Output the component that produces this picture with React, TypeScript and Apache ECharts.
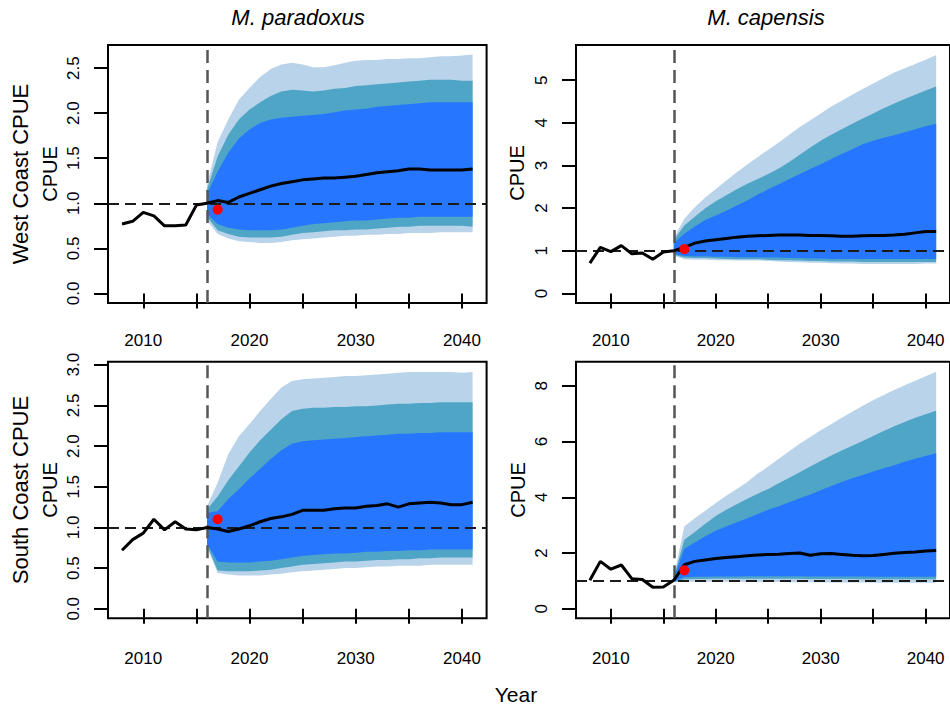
import React, { useEffect, useRef } from 'react';
import * as echarts from 'echarts';

// ---------- shared axes ----------
const histYears = [2008, 2009, 2010, 2011, 2012, 2013, 2014, 2015, 2016];
const projYears = [2016, 2017, 2018, 2019, 2020, 2021, 2022, 2023, 2024, 2025, 2026, 2027, 2028,
  2029, 2030, 2031, 2032, 2033, 2034, 2035, 2036, 2037, 2038, 2039, 2040, 2041];
const xTickValues = [2010, 2015, 2020, 2025, 2030, 2035, 2040];
const xLabelValues = [2010, 2020, 2030, 2040];
const obsYear = 2017;
const refValue = 1;
const projStartYear = 2016;

// ---------- West Coast, M. paradoxus ----------
const wcParHist = [0.77, 0.80, 0.90, 0.86, 0.75, 0.75, 0.76, 0.98, 1.00];
const wcParMed = [1.00, 1.03, 1.01, 1.07, 1.11, 1.15, 1.19, 1.22, 1.24, 1.26, 1.27, 1.28, 1.28, 1.29, 1.30, 1.32, 1.34, 1.35, 1.36, 1.38, 1.38, 1.37, 1.37, 1.37, 1.37, 1.38];
const wcParLightHi = [1.20, 1.68, 1.93, 2.15, 2.28, 2.40, 2.49, 2.54, 2.56, 2.54, 2.51, 2.51, 2.53, 2.56, 2.58, 2.59, 2.59, 2.60, 2.60, 2.61, 2.61, 2.62, 2.63, 2.63, 2.64, 2.65];
const wcParTealHi = [1.15, 1.52, 1.76, 1.93, 2.04, 2.12, 2.19, 2.24, 2.26, 2.25, 2.24, 2.25, 2.27, 2.28, 2.30, 2.31, 2.32, 2.33, 2.34, 2.35, 2.36, 2.37, 2.37, 2.37, 2.36, 2.36];
const wcParBlueHi = [1.10, 1.35, 1.56, 1.72, 1.82, 1.89, 1.93, 1.95, 1.96, 1.97, 1.98, 1.99, 2.01, 2.03, 2.04, 2.05, 2.07, 2.08, 2.09, 2.10, 2.11, 2.12, 2.12, 2.12, 2.12, 2.12];
const wcParBlueLo = [0.88, 0.77, 0.73, 0.71, 0.70, 0.70, 0.70, 0.71, 0.73, 0.75, 0.77, 0.78, 0.79, 0.80, 0.81, 0.81, 0.82, 0.83, 0.84, 0.84, 0.85, 0.85, 0.85, 0.85, 0.85, 0.85];
const wcParTealLo = [0.85, 0.70, 0.66, 0.63, 0.62, 0.62, 0.62, 0.63, 0.65, 0.67, 0.68, 0.69, 0.70, 0.70, 0.71, 0.71, 0.72, 0.73, 0.74, 0.74, 0.75, 0.75, 0.75, 0.75, 0.75, 0.74];
const wcParLightLo = [0.81, 0.66, 0.61, 0.58, 0.57, 0.56, 0.56, 0.57, 0.59, 0.60, 0.61, 0.62, 0.63, 0.64, 0.64, 0.65, 0.65, 0.66, 0.66, 0.67, 0.67, 0.67, 0.68, 0.68, 0.68, 0.68];
const wcParObs = 0.93;
const wcParYTicks = [0, 0.5, 1, 1.5, 2, 2.5];

// ---------- West Coast, M. capensis ----------
const wcCapHist = [0.71, 1.08, 0.98, 1.12, 0.93, 0.95, 0.80, 0.97, 1.00];
const wcCapMed = [1.00, 1.08, 1.18, 1.23, 1.26, 1.29, 1.32, 1.34, 1.35, 1.36, 1.37, 1.37, 1.37, 1.36, 1.36, 1.35, 1.34, 1.34, 1.35, 1.36, 1.36, 1.37, 1.39, 1.42, 1.45, 1.45];
const wcCapLightHi = [1.30, 1.75, 2.02, 2.25, 2.45, 2.65, 2.84, 3.02, 3.20, 3.37, 3.54, 3.72, 3.90, 4.06, 4.22, 4.38, 4.52, 4.66, 4.79, 4.92, 5.05, 5.18, 5.28, 5.38, 5.48, 5.59];
const wcCapTealHi = [1.25, 1.59, 1.80, 2.00, 2.16, 2.30, 2.44, 2.57, 2.68, 2.80, 2.93, 3.08, 3.25, 3.42, 3.58, 3.72, 3.85, 3.98, 4.10, 4.22, 4.34, 4.45, 4.56, 4.66, 4.76, 4.85];
const wcCapBlueHi = [1.18, 1.40, 1.57, 1.72, 1.83, 1.94, 2.06, 2.18, 2.32, 2.44, 2.56, 2.68, 2.80, 2.92, 3.03, 3.15, 3.27, 3.38, 3.50, 3.58, 3.65, 3.71, 3.78, 3.85, 3.92, 3.98];
const wcCapBlueLo = [0.93, 0.88, 0.87, 0.87, 0.86, 0.86, 0.85, 0.85, 0.85, 0.84, 0.84, 0.83, 0.83, 0.82, 0.82, 0.81, 0.81, 0.81, 0.81, 0.81, 0.81, 0.81, 0.81, 0.81, 0.81, 0.81];
const wcCapTealLo = [0.91, 0.84, 0.83, 0.83, 0.82, 0.81, 0.80, 0.80, 0.80, 0.79, 0.78, 0.78, 0.77, 0.76, 0.76, 0.75, 0.75, 0.75, 0.74, 0.74, 0.74, 0.74, 0.74, 0.74, 0.74, 0.74];
const wcCapLightLo = [0.89, 0.80, 0.79, 0.79, 0.78, 0.78, 0.77, 0.77, 0.77, 0.76, 0.75, 0.74, 0.73, 0.72, 0.72, 0.71, 0.70, 0.70, 0.69, 0.69, 0.69, 0.69, 0.69, 0.69, 0.70, 0.70];
const wcCapObs = 1.04;
const wcCapYTicks = [0, 1, 2, 3, 4, 5];

// ---------- South Coast, M. paradoxus ----------
const scParHist = [0.72, 0.85, 0.93, 1.10, 0.97, 1.07, 0.98, 0.97, 1.00];
const scParMed = [1.00, 0.98, 0.95, 0.98, 1.02, 1.07, 1.11, 1.13, 1.16, 1.21, 1.21, 1.21, 1.23, 1.24, 1.24, 1.26, 1.27, 1.29, 1.25, 1.29, 1.30, 1.31, 1.30, 1.28, 1.28, 1.31];
const scParLightHi = [1.26, 1.55, 1.90, 2.12, 2.27, 2.43, 2.58, 2.72, 2.80, 2.82, 2.83, 2.84, 2.85, 2.86, 2.86, 2.87, 2.88, 2.89, 2.90, 2.91, 2.91, 2.91, 2.91, 2.91, 2.90, 2.91];
const scParTealHi = [1.22, 1.38, 1.58, 1.75, 1.92, 2.07, 2.20, 2.33, 2.43, 2.46, 2.47, 2.47, 2.48, 2.48, 2.49, 2.49, 2.50, 2.51, 2.52, 2.52, 2.53, 2.53, 2.54, 2.54, 2.54, 2.54];
const scParBlueHi = [1.18, 1.20, 1.35, 1.47, 1.60, 1.72, 1.84, 1.95, 2.03, 2.06, 2.07, 2.08, 2.09, 2.10, 2.11, 2.12, 2.13, 2.14, 2.15, 2.15, 2.16, 2.16, 2.17, 2.17, 2.17, 2.17];
const scParBlueLo = [0.80, 0.58, 0.57, 0.57, 0.57, 0.58, 0.59, 0.61, 0.63, 0.65, 0.66, 0.67, 0.68, 0.68, 0.69, 0.70, 0.70, 0.71, 0.71, 0.72, 0.72, 0.73, 0.73, 0.73, 0.73, 0.73];
const scParTealLo = [0.78, 0.47, 0.46, 0.46, 0.46, 0.47, 0.48, 0.50, 0.52, 0.54, 0.55, 0.56, 0.57, 0.58, 0.58, 0.59, 0.60, 0.60, 0.61, 0.61, 0.62, 0.62, 0.63, 0.63, 0.63, 0.63];
const scParLightLo = [0.76, 0.44, 0.42, 0.41, 0.41, 0.41, 0.42, 0.43, 0.45, 0.46, 0.47, 0.48, 0.49, 0.50, 0.50, 0.51, 0.52, 0.52, 0.53, 0.53, 0.53, 0.54, 0.54, 0.54, 0.54, 0.54];
const scParObs = 1.10;
const scParYTicks = [0, 0.5, 1, 1.5, 2, 2.5, 3];

// ---------- South Coast, M. capensis ----------
const scCapHist = [1.02, 1.70, 1.42, 1.57, 1.08, 1.05, 0.77, 0.78, 1.02];
const scCapMed = [1.02, 1.58, 1.70, 1.75, 1.80, 1.84, 1.87, 1.90, 1.93, 1.95, 1.96, 1.98, 2.00, 1.92, 1.97, 1.98, 1.95, 1.92, 1.90, 1.91, 1.95, 1.99, 2.02, 2.04, 2.07, 2.09];
const scCapLightHi = [1.15, 2.95, 3.25, 3.52, 3.79, 4.05, 4.30, 4.55, 4.85, 5.10, 5.38, 5.65, 5.92, 6.16, 6.40, 6.62, 6.85, 7.07, 7.28, 7.48, 7.67, 7.85, 8.02, 8.18, 8.34, 8.50];
const scCapTealHi = [1.12, 2.48, 2.75, 3.05, 3.33, 3.55, 3.75, 3.95, 4.13, 4.30, 4.50, 4.70, 4.90, 5.10, 5.30, 5.50, 5.68, 5.85, 6.02, 6.20, 6.38, 6.55, 6.70, 6.85, 6.98, 7.10];
const scCapBlueHi = [1.10, 2.15, 2.38, 2.60, 2.80, 2.95, 3.10, 3.25, 3.40, 3.55, 3.68, 3.82, 3.96, 4.10, 4.25, 4.40, 4.55, 4.68, 4.80, 4.92, 5.04, 5.15, 5.27, 5.38, 5.48, 5.58];
const scCapBlueLo = [0.97, 1.14, 1.15, 1.15, 1.16, 1.16, 1.16, 1.17, 1.17, 1.17, 1.17, 1.17, 1.17, 1.16, 1.16, 1.16, 1.16, 1.16, 1.16, 1.15, 1.15, 1.15, 1.15, 1.15, 1.15, 1.15];
const scCapTealLo = [0.96, 1.06, 1.07, 1.07, 1.08, 1.08, 1.08, 1.08, 1.08, 1.08, 1.08, 1.08, 1.08, 1.07, 1.07, 1.07, 1.07, 1.07, 1.06, 1.06, 1.06, 1.06, 1.06, 1.06, 1.06, 1.06];
const scCapLightLo = [0.95, 0.97, 0.97, 0.97, 0.97, 0.97, 0.97, 0.96, 0.96, 0.96, 0.96, 0.95, 0.95, 0.95, 0.95, 0.94, 0.94, 0.94, 0.94, 0.94, 0.93, 0.93, 0.93, 0.93, 0.93, 0.93];
const scCapObs = 1.38;
const scCapYTicks = [0, 2, 4, 6, 8];

// ---------- styling / layout ----------
const FONT = '"Liberation Sans", Arial, Helvetica, sans-serif';
const C_LIGHT = '#B9D3EA';
const C_TEAL = '#4EA5C6';
const C_BLUE = '#2776FF';
const X_MIN = 2006.68;
const X_MAX = 2042.32;

const panels = [
  { hist: wcParHist, med: wcParMed, lh: wcParLightHi, th: wcParTealHi, bh: wcParBlueHi, bl: wcParBlueLo, tl: wcParTealLo, ll: wcParLightLo, obs: wcParObs, yTicks: wcParYTicks, dec: 1,
    left: 108, top: 45, width: 378.6, height: 258, ymin: -0.106, ymax: 2.756, xMargin: 29 },
  { hist: wcCapHist, med: wcCapMed, lh: wcCapLightHi, th: wcCapTealHi, bh: wcCapBlueHi, bl: wcCapBlueLo, tl: wcCapTealLo, ll: wcCapLightLo, obs: wcCapObs, yTicks: wcCapYTicks, dec: 0,
    left: 576, top: 45, width: 377.5, height: 258, ymin: -0.224, ymax: 5.824, xMargin: 29 },
  { hist: scParHist, med: scParMed, lh: scParLightHi, th: scParTealHi, bh: scParBlueHi, bl: scParBlueLo, tl: scParTealLo, ll: scParLightLo, obs: scParObs, yTicks: scParYTicks, dec: 1,
    left: 108, top: 361.7, width: 378.6, height: 256.6, ymin: -0.117, ymax: 3.037, xMargin: 32 },
  { hist: scCapHist, med: scCapMed, lh: scCapLightHi, th: scCapTealHi, bh: scCapBlueHi, bl: scCapBlueLo, tl: scCapTealLo, ll: scCapLightLo, obs: scCapObs, yTicks: scCapYTicks, dec: 0,
    left: 576, top: 361.7, width: 377.5, height: 256.6, ymin: -0.341, ymax: 8.861, xMargin: 32 },
];

function bandSeries(idx: number, lo: number[], hi: number[], color: string, z: number) {
  return {
    type: 'custom',
    xAxisIndex: idx,
    yAxisIndex: idx,
    z,
    silent: true,
    data: projYears.map((yr, k) => [yr, lo[k], hi[k]]),
    encode: { x: 0, y: [1, 2] },
    renderItem: (params: any, api: any) => {
      if (params.dataIndex !== 0) return null;
      const upper = projYears.map((yr, k) => api.coord([yr, hi[k]]));
      const lower = projYears.map((yr, k) => api.coord([yr, lo[k]])).reverse();
      return {
        type: 'polygon',
        shape: { points: upper.concat(lower) },
        style: { fill: color, stroke: null },
      };
    },
  };
}

function buildOption() {
  const grid = panels.map((p) => ({
    left: p.left, top: p.top, width: p.width, height: p.height,
    show: true, borderColor: '#000', borderWidth: 2, backgroundColor: 'transparent',
  }));
  const xAxis = panels.map((p, i) => ({
    type: 'value', gridIndex: i, min: X_MIN, max: X_MAX,
    axisLine: { show: false },
    splitLine: { show: false },
    axisTick: { show: true, inside: false, length: 15, customValues: xTickValues, lineStyle: { color: '#000', width: 2 } },
    axisLabel: { customValues: xLabelValues, fontSize: 17, fontFamily: FONT, color: '#000', margin: p.xMargin, formatter: (v: number) => String(v) },
  }));
  const yAxis = panels.map((p, i) => ({
    type: 'value', gridIndex: i, min: p.ymin, max: p.ymax,
    axisLine: { show: false },
    splitLine: { show: false },
    axisTick: { show: true, inside: false, length: 14, customValues: p.yTicks, lineStyle: { color: '#000', width: 2 } },
    axisLabel: {
      customValues: p.yTicks, rotate: 90, fontSize: 17, fontFamily: FONT, color: '#000', margin: 26,
      formatter: (v: number) => (p.dec ? v.toFixed(1) : String(Math.round(v))),
    },
  }));
  const series: any[] = [];
  panels.forEach((p, i) => {
    series.push(bandSeries(i, p.ll, p.lh, C_LIGHT, 1));
    series.push(bandSeries(i, p.tl, p.th, C_TEAL, 2));
    series.push(bandSeries(i, p.bl, p.bh, C_BLUE, 3));
    series.push({
      type: 'line', xAxisIndex: i, yAxisIndex: i, z: 10, silent: true,
      data: histYears.map((yr, k) => [yr, p.hist[k]]),
      showSymbol: false, lineStyle: { color: '#000', width: 3 },
    });
    series.push({
      type: 'line', xAxisIndex: i, yAxisIndex: i, z: 10, silent: true,
      data: projYears.map((yr, k) => [yr, p.med[k]]),
      showSymbol: false, lineStyle: { color: '#000', width: 3 },
      markLine: {
        silent: true, symbol: ['none', 'none'], z: 5, label: { show: false },
        data: [
          { yAxis: refValue, lineStyle: { color: '#1a1a1a', width: 2, type: [11, 6] } },
          { xAxis: projStartYear, lineStyle: { color: '#555', width: 2.5, type: [13, 7] } },
        ],
      },
    });
    series.push({
      type: 'scatter', xAxisIndex: i, yAxisIndex: i, z: 11, silent: true,
      data: [[obsYear, p.obs]], symbol: 'circle', symbolSize: 10,
      itemStyle: { color: '#FF0000', opacity: 1 },
    });
  });

  const txt = (text: string, x: number, y: number, size: number, rot = 0, italic = false) => ({
    type: 'text', x, y, rotation: rot, silent: true,
    style: {
      text, fill: '#000', fontSize: size, fontFamily: FONT, fontStyle: italic ? 'italic' : 'normal',
      align: 'center', verticalAlign: 'middle',
    },
  });
  const graphic = [
    txt('M. paradoxus', 298, 17, 22, 0, true),
    txt('M. capensis', 766, 17, 22, 0, true),
    txt('West Coast CPUE', 20, 174, 22, Math.PI / 2),
    txt('CPUE', 50, 174, 20, Math.PI / 2),
    txt('CPUE', 517, 173, 20, Math.PI / 2),
    txt('South Coast CPUE', 20, 490, 22, Math.PI / 2),
    txt('CPUE', 50, 490, 20, Math.PI / 2),
    txt('CPUE', 518, 490, 20, Math.PI / 2),
    txt('Year', 516, 694, 21),
  ];

  return { animation: false, backgroundColor: '#fff', grid, xAxis, yAxis, series, graphic };
}

export default function App() {
  const ref = useRef<HTMLDivElement>(null);
  useEffect(() => {
    if (!ref.current) return;
    const chart = echarts.init(ref.current, undefined, { renderer: 'svg' });
    chart.setOption(buildOption() as any);
    return () => chart.dispose();
  }, []);
  return (
    <div
      ref={ref}
      style={{ position: 'fixed', left: 0, top: 0, width: 950, height: 708, background: '#fff' }}
    />
  );
}
